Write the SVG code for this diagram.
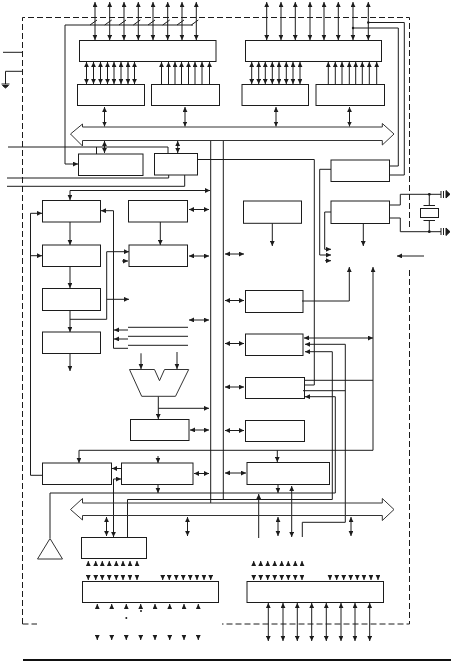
<svg xmlns="http://www.w3.org/2000/svg" width="451" height="661" viewBox="0 0 451 661">
<style>
.b{fill:none;stroke:#1c1c1c;stroke-width:1}
.w{fill:none;stroke:#1c1c1c;stroke-width:1}
.s{fill:none;stroke:#1c1c1c;stroke-width:1;marker-end:url(#h)}
.d{fill:none;stroke:#1c1c1c;stroke-width:1;marker-start:url(#h);marker-end:url(#h)}
.g{fill:none;stroke:#333;stroke-width:1}
.dash{fill:none;stroke:#1c1c1c;stroke-width:1;stroke-dasharray:6 3}
</style>
<defs>
<marker id="h" markerUnits="userSpaceOnUse" markerWidth="6" markerHeight="5" refX="5" refY="2.4" orient="auto-start-reverse"><path d="M0 0L5 2.4L0 4.8Z" fill="#1c1c1c"/></marker>
</defs>
<rect width="451" height="661" fill="#fff"/>
<g id="boundary">
<path class="dash" d="M22.5 624V17.5H409.5V228"/>
<path class="dash" d="M409.5 270V624H222"/>
<path class="dash" d="M22.5 624H37"/>
</g>
<g id="connectors">
<path class="d" d="M95 2V40"/><path class="d" d="M109.7 2V40"/><path class="d" d="M124 2V40"/><path class="d" d="M138.3 2V40"/><path class="d" d="M153 2V40"/><path class="d" d="M167.7 2V40"/><path class="d" d="M182 2V40"/><path class="d" d="M196.3 2V40"/>
<path class="d" d="M266.7 2V40"/><path class="d" d="M281 2V40"/><path class="d" d="M295.3 2V40"/><path class="d" d="M310 2V40"/><path class="d" d="M324 2V40"/><path class="d" d="M338.3 2V40"/><path class="d" d="M353 2V40"/><path class="d" d="M368.3 2V40"/>
<path class="w" d="M65 25H193M90 25L97 20M104.7 25L111.7 20M119 25L126 20M133.3 25L140.3 20M148 25L155 20M162.7 25L169.7 20M177 25L184 20M191.3 25L198.3 20"/>
<path class="s" d="M65 25V164H78"/>
<path class="w" d="M353 28H398.3V166H389.5M368.3 22.5H404.3V175H389.5"/>
<circle cx="353" cy="28" r="1.2" fill="#1c1c1c"/><circle cx="368.3" cy="22.5" r="1.2" fill="#1c1c1c"/>
<path class="d" d="M86.5 62V84"/><path class="d" d="M93.5 62V84"/><path class="d" d="M100.5 62V84"/><path class="d" d="M107.5 62V84"/><path class="d" d="M114 62V84"/><path class="d" d="M121 62V84"/><path class="d" d="M128 62V84"/><path class="d" d="M134.5 62V84"/>
<path class="s" d="M161.5 85V62"/><path class="s" d="M168.5 85V62"/><path class="s" d="M175 85V62"/><path class="s" d="M181.5 85V62"/><path class="s" d="M188.5 85V62"/><path class="s" d="M195 85V62"/><path class="s" d="M202 85V62"/><path class="s" d="M209.5 85V62"/>
<path class="d" d="M251.7 62V84"/><path class="d" d="M258.7 62V84"/><path class="d" d="M265.3 62V84"/><path class="d" d="M272.3 62V84"/><path class="d" d="M279 62V84"/><path class="d" d="M286.3 62V84"/><path class="d" d="M293 62V84"/><path class="d" d="M300 62V84"/>
<path class="s" d="M328.3 85V62"/><path class="s" d="M335.3 85V62"/><path class="s" d="M342 85V62"/><path class="s" d="M349.3 85V62"/><path class="s" d="M355.7 85V62"/><path class="s" d="M362.3 85V62"/><path class="s" d="M369.3 85V62"/><path class="s" d="M376.7 85V62"/>
<path class="d" d="M104.5 107V126.5"/><path class="d" d="M185 107V126.5"/><path class="d" d="M276 107V126.5"/><path class="d" d="M349.5 107V126.5"/>
<path class="d" d="M104.5 141V153"/><path class="d" d="M177.7 141V153"/>
<path class="w" d="M3 52.3H22M22 71.3H5.5V84M8 147H168V153.3M96.5 147V154M7 178H168.7V175M7 186.3H184.7V175"/>
<path d="M1.5 84H9.5M2.5 85.5L8.5 85.5L5.5 88Z" fill="#1c1c1c" stroke="#1c1c1c" stroke-width="1"/>
<path class="w" d="M210.7 140.5V503M223.3 140.5V499.5M127.5 537V499.5"/>
<path class="w" d="M197.5 159.5H314.3V385H305"/>
<path class="s" d="M331 169.3H319.7V255H331"/>
<path class="s" d="M331 212H324.7V249.3H331"/>
<path class="s" d="M325 260.7H331"/>
<path class="s" d="M70 190.5H210"/>
<path class="s" d="M70 190.5V200"/>
<path class="s" d="M70 222V245"/><path class="s" d="M70 266.5V288"/><path class="s" d="M70 310.5V332"/><path class="s" d="M70 353.5V371"/>
<path class="s" d="M70 319.3H106.7V251.7H129"/>
<path class="s" d="M106.7 299.3H129"/>
<path class="s" d="M160.3 222V245"/>
<path class="d" d="M189 209.5H209"/><path class="d" d="M189 256H209"/><path class="d" d="M189 320H209"/><path class="d" d="M190 430H209"/>
<path class="s" d="M122 261H128"/>
<path class="s" d="M128 348.3H113.5V210.7H101"/>
<path class="w" d="M128 327.3H188M128 336.3H188M128 345.3H188"/>
<path class="s" d="M128 330H114"/><path class="s" d="M128 339H114"/>
<path class="s" d="M42.5 475.3H30.5V213.3H42"/>
<path class="s" d="M30.5 255.7H42"/>
<path class="s" d="M141 353.3V369"/><path class="s" d="M177 352V369"/>
<path class="s" d="M158.3 396.3V419"/>
<path class="s" d="M158.3 408.3H209"/>
<path class="s" d="M158 456V463"/>
<path class="s" d="M272.3 223.3V246"/><path class="s" d="M363.3 223.5V246"/><path class="s" d="M424 256H397"/>
<path class="s" d="M302 301H349.3V267"/>
<path class="s" d="M79 450.3V463"/>
<path class="s" d="M79 450.3H373V267"/>
<path class="s" d="M277.3 450.3V462"/>
<path class="w" d="M305 380.3H373M303 390.7H345.3"/>
<path class="d" d="M304 338H373"/>
<path class="s" d="M345.3 522.3V344.3H305"/>
<path class="w" d="M345.3 522.3H302.3V537"/>
<path class="s" d="M50 493H335.3V396.7H305"/>
<path class="s" d="M127.5 499.5H332.3V351.7H305"/>
<path class="d" d="M225 254H244"/><path class="d" d="M225 300.5H244"/><path class="d" d="M225 343.5H244"/><path class="d" d="M225 387H244"/><path class="d" d="M225 430.5H244"/><path class="d" d="M225 473H246"/><path class="d" d="M194 473.5H209"/>
<path class="w" d="M389.5 205H400.3V194.3H441M429.3 194.3V205M423.5 205.5H435M389.5 218H400.3V231.7H441M429.3 221V231.7M423.5 220.5H435"/>
<circle cx="429.3" cy="194.3" r="1.4" fill="#1c1c1c"/><circle cx="429.3" cy="231.7" r="1.4" fill="#1c1c1c"/>
<path class="w" d="M441 191V198M443.5 191V198M441 228V235M443.5 228V235"/>
<path d="M446 190.5V198L450 194.3ZM446 228V235.5L450 231.7Z" fill="#1c1c1c" stroke="#1c1c1c" stroke-width="1"/>
<path class="s" d="M121 468.5H112"/>
<path class="s" d="M113.5 479H121"/>
<path class="s" d="M113.5 479V537"/>
<path class="s" d="M158 484.5V493"/><path class="s" d="M278 484.5V493"/>
<path class="s" d="M258.7 538V494"/>
<path class="d" d="M291.7 486V537"/><path class="d" d="M278 517V536"/><path class="d" d="M351 517V536"/><path class="d" d="M106.5 517V536"/><path class="d" d="M187.5 517V536"/>
<path class="w" d="M50 493V538"/>
<path class="s" d="M88.3 566V561"/><path class="s" d="M95.7 566V561"/><path class="s" d="M102.3 566V561"/><path class="s" d="M109.3 566V561"/><path class="s" d="M116.3 566V561"/><path class="s" d="M123 566V561"/><path class="s" d="M130 566V561"/><path class="s" d="M137 566V561"/>
<path class="s" d="M253.7 566V561"/><path class="s" d="M260.7 566V561"/><path class="s" d="M267.7 566V561"/><path class="s" d="M274.7 566V561"/><path class="s" d="M281.7 566V561"/><path class="s" d="M288.3 566V561"/><path class="s" d="M295.3 566V561"/><path class="s" d="M302 566V561"/>
<path class="s" d="M88.3 575V580"/><path class="s" d="M95.7 575V580"/><path class="s" d="M102.3 575V580"/><path class="s" d="M109.3 575V580"/><path class="s" d="M116.3 575V580"/><path class="s" d="M123 575V580"/><path class="s" d="M130 575V580"/><path class="s" d="M137 575V580"/>
<path class="s" d="M162.7 575V580"/><path class="s" d="M169.3 575V580"/><path class="s" d="M176.3 575V580"/><path class="s" d="M183.3 575V580"/><path class="s" d="M190.3 575V580"/><path class="s" d="M197 575V580"/><path class="s" d="M204 575V580"/><path class="s" d="M210.7 575V580"/>
<path class="s" d="M253.7 575V580"/><path class="s" d="M260.7 575V580"/><path class="s" d="M267.7 575V580"/><path class="s" d="M274.7 575V580"/><path class="s" d="M281.7 575V580"/><path class="s" d="M288.3 575V580"/><path class="s" d="M295.3 575V580"/><path class="s" d="M302 575V580"/>
<path class="s" d="M330 575V580"/><path class="s" d="M336.7 575V580"/><path class="s" d="M343.7 575V580"/><path class="s" d="M350.7 575V580"/><path class="s" d="M357.3 575V580"/><path class="s" d="M364 575V580"/><path class="s" d="M371 575V580"/><path class="s" d="M378 575V580"/>
<path class="s" d="M97.3 609V604"/><path class="s" d="M111.7 609V604"/><path class="s" d="M126.3 609V604"/><path class="s" d="M140.7 609V604"/><path class="s" d="M155 609V604"/><path class="s" d="M169.7 609V604"/><path class="s" d="M184 609V604"/><path class="s" d="M198.3 609V604"/>
<path class="s" d="M97.3 635V640"/><path class="s" d="M111.7 635V640"/><path class="s" d="M126.3 635V640"/><path class="s" d="M140.7 635V640"/><path class="s" d="M155 635V640"/><path class="s" d="M169.7 635V640"/><path class="s" d="M184 635V640"/><path class="s" d="M198.3 635V640"/>
<circle cx="126.3" cy="618" r="1" fill="#1c1c1c"/><circle cx="141" cy="611" r="1" fill="#1c1c1c"/>
<path class="d" d="M268.3 603V641"/><path class="d" d="M283 603V641"/><path class="d" d="M297.3 603V641"/><path class="d" d="M311.7 603V641"/><path class="d" d="M326.3 603V641"/><path class="d" d="M341 603V641"/><path class="d" d="M355 603V641"/><path class="d" d="M369.7 603V641"/>
</g>
<g id="bus-a"><path class="g" d="M70.5 134L82.5 124V127H382.3V123.5L394 134L382.3 145V140.5H82.5V146Z"/></g>
<g id="bus-b"><path class="g" d="M70.5 509.5L82.5 498.5V503H382.3V498.5L394 509.5L382.3 520.5V515.5H82.5V520Z"/></g>
<g id="n-latch-p0"><rect class="b" x="79.5" y="40.5" width="136.5" height="21"/></g>
<g id="n-latch-p2"><rect class="b" x="245.5" y="40.5" width="136" height="21"/></g>
<g id="n-reg-a"><rect class="b" x="77.5" y="84.5" width="67" height="21"/></g>
<g id="n-reg-b"><rect class="b" x="151.5" y="84.5" width="68" height="21"/></g>
<g id="n-reg-c"><rect class="b" x="242" y="84.5" width="66.5" height="21"/></g>
<g id="n-reg-d"><rect class="b" x="316" y="84.5" width="68.5" height="21"/></g>
<g id="n-m"><rect class="b" x="78.5" y="154" width="64.5" height="21.5"/></g>
<g id="n-n"><rect class="b" x="154.5" y="153.5" width="43" height="21.5"/></g>
<g id="n-b1"><rect class="b" x="42.5" y="200.5" width="58" height="21.5"/></g>
<g id="n-b2"><rect class="b" x="42.5" y="245" width="58" height="21.5"/></g>
<g id="n-b3"><rect class="b" x="42.5" y="288.5" width="58" height="22"/></g>
<g id="n-b4"><rect class="b" x="42.5" y="332" width="58" height="21.5"/></g>
<g id="n-c1"><rect class="b" x="128.5" y="200.5" width="59" height="21.5"/></g>
<g id="n-c2"><rect class="b" x="129" y="245" width="58.5" height="21.5"/></g>
<g id="n-alu"><path class="g" d="M129.5 369.5H154.5L159.5 380.7L164.5 369.5H188.7L175.5 396.3H141.7Z"/></g>
<g id="n-e"><rect class="b" x="130.5" y="419.5" width="58.5" height="21"/></g>
<g id="n-f"><rect class="b" x="243.5" y="201" width="58" height="22.3"/></g>
<g id="n-r1"><rect class="b" x="245.5" y="290.5" width="57.5" height="22"/></g>
<g id="n-r2"><rect class="b" x="245.5" y="334" width="57.5" height="21.5"/></g>
<g id="n-r3"><rect class="b" x="245.5" y="377.5" width="59" height="21"/></g>
<g id="n-r4"><rect class="b" x="245.5" y="420.5" width="59" height="21"/></g>
<g id="n-s1"><rect class="b" x="331" y="160" width="58.5" height="21.5"/></g>
<g id="n-s2"><rect class="b" x="331" y="201" width="58.5" height="22.5"/></g>
<g id="n-xtal"><rect class="b" x="420.5" y="208.5" width="18" height="9"/></g>
<g id="n-g"><rect class="b" x="42.5" y="463" width="69" height="21.5"/></g>
<g id="n-h"><rect class="b" x="121.5" y="463" width="71.5" height="21.5"/></g>
<g id="n-i"><rect class="b" x="247" y="462.5" width="82.5" height="22"/></g>
<g id="n-tri"><path class="g" d="M50 538.5L37.5 559H62.5Z"/></g>
<g id="n-j"><rect class="b" x="81.5" y="537.5" width="65" height="21"/></g>
<g id="n-k"><rect class="b" x="82.5" y="581.5" width="136" height="21"/></g>
<g id="n-l"><rect class="b" x="247" y="581.5" width="136.5" height="21"/></g>
<g id="rule"><rect x="23" y="659" width="428" height="2" fill="#111"/></g>
</svg>
